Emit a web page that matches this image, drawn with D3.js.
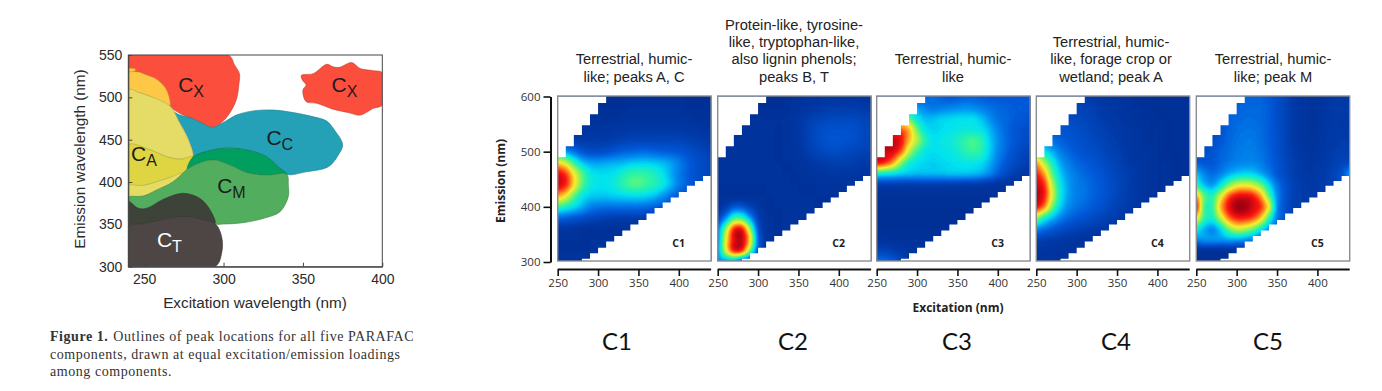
<!DOCTYPE html>
<html>
<head>
<meta charset="utf-8">
<script src="https://cdn.jsdelivr.net/npm/d3@7"></script>
<style>
body { margin: 0; background: #fff; }
svg { display: block; }
</style>
</head>
<body>
<div id="vis"></div>
<script>
// left figure: peak outlines, [excitation, emission] in nm
var cxMain = [[240,550],[303,550],[307,538],[310,528],[309.7,516],[308,497],[303,479],[298,469],[292.5,464.5],[287,469],[279,476],[272.6,481],[266.3,490],[263.7,509],[258,521],[251.6,526],[246.3,530],[240,529]];
var cxRight = [[349,526],[356.5,528],[365,539],[369,536],[373,535.4],[380.7,541],[386,534],[394.4,531.5],[400,529],[400,491],[394.4,487],[386,479],[378.6,482],[369,486],[358.7,493],[352,495],[350,508.6],[352,514.6],[349.8,520]];
var caWedge = [[240,534],[244.8,533],[241,529]];
var caOrange = [[240,529],[246,530],[252,526],[258,521],[264,509],[266,490],[254,501],[247,505.5],[240,509]];
var caLight = [[240,509],[247,505.5],[254,501],[266,490],[272.6,469],[277.8,449.6],[280.5,430],[272.6,427],[264,430],[253.7,438],[240,444]];
var caMid = [[240,444],[253.7,438],[264,430],[272.6,427],[280.5,430],[277.8,418],[274.7,411],[264,404],[249.5,396],[240,395.6]];
var caLow = [[240,395.6],[249.5,396],[264,404],[274.7,411],[268,400],[258,390.6],[249.5,383.5],[240,382]];
var ccMain = [[266.3,485],[272.6,479],[279,476],[287,469],[292.5,464.5],[298.8,469],[308,479],[318.8,484],[331.4,485],[344,482],[356.6,477],[365,472],[370,461],[375,444],[372.3,432],[366,418],[352,412],[339.8,409],[334.5,418],[327,430],[316.6,437],[302,440],[289,436],[280.5,429],[280.5,436],[277.8,451.6],[272.6,469]];
var cmOverlap = [[280.5,429],[289,436],[302,440],[316.6,437],[327,430],[334.5,418],[339.8,409],[327,408],[314.6,411],[304,420],[293.6,426],[283,421],[277.2,415]];
var cmMain = [[277.2,415],[283,421],[293.6,426],[304,420],[314.6,411],[327,408],[339.8,409],[340.8,396.5],[340.8,383],[335.6,365],[325,357],[312.5,352],[300,350.4],[294.6,351],[291.5,367],[285,380.7],[274.7,386.6],[262,379.5],[251.6,369],[246.3,369],[240.6,375],[240,382],[249.5,383.5],[258,390.6],[268,400],[274.7,411]];
var ctOverlap = [[240,377],[246.3,369],[251.6,369],[262,379.5],[274.7,386.6],[285,380.7],[291.5,367],[294.6,351],[283,357],[274.7,359],[262,355],[251.6,351],[240,347]];
var ctMain = [[240,347],[251.6,351],[262,355],[274.7,359],[283,357],[294.6,351],[298.8,335.4],[298.8,316],[294.6,300],[240,300]];

var regionNames = ["cxMain","cxRight","ccMain","caWedge","caOrange","caLight","caMid","caLow","cmOverlap","cmMain","ctOverlap","ctMain"];
var regionShapes = [cxMain,cxRight,ccMain,caWedge,caOrange,caLight,caMid,caLow,cmOverlap,cmMain,ctOverlap,ctMain];
var regionColors = ["#fb4e3c","#fb4e3c","#24a1b6","#fcc845","#fcc845","#e4dc66","#dfd542","#e5dd62","#009e5f","#52ae5e","#3e4339","#4d4644"];

var peakLabels = [["C","X",271.4,506],["C","X",368,506],["C","C",327,443.7],["C","A",241.7,425],["C","M",296,387],["C","T",258,323.6]];

var caption = ["Outlines of peak locations for all five PARAFAC","components, drawn at equal excitation/emission loadings","among components."];

// right figure
var panelNames = ["C1","C2","C3","C4","C5"];
var panelTitles = [
    ["Terrestrial, humic-","like; peaks A, C"],
    ["Protein-like, tyrosine-","like, tryptophan-like,","also lignin phenols;","peaks B, T"],
    ["Terrestrial, humic-","like"],
    ["Terrestrial, humic-","like, forage crop or","wetland; peak A"],
    ["Terrestrial, humic-","like; peak M"]
];

var exGrid = [250,260,270,280,290,300,310,320,330,340,350,360,370,380,390,400,410,420,430,440];
var emGrid = [600,580,560,540,520,500,480,460,440,420,400,380,360,340,320,300];

// loadings 0-100, one row per emGrid entry
var c1 = [
[5,5,5,5,5,5,5,5,5,5,5,5,5,5,5,5,5,5,5,5],
[5,5,5,5,5,5,5,5,5,6,6,6,6,6,6,6,5,5,5,5],
[6,6,6,6,6,6,6,6,7,7,7,7,7,7,7,7,7,6,6,6],
[8,8,8,8,8,8,8,9,9,10,10,10,10,10,10,10,9,9,8,8],
[16,14,12,11,11,11,11,12,13,14,14,14,14,14,14,14,13,12,11,10],
[34,32,26,20,17,17,18,20,22,23,24,24,23,22,21,20,18,16,14,12],
[72,65,50,38,33,32,33,34,35,37,38,38,37,35,32,27,22,18,16,14],
[93,87,70,54,43,40,40,41,45,49,50,49,46,41,34,27,22,18,16,14],
[95,89,72,54,44,41,41,43,48,52,53,50,47,42,35,27,22,18,16,14],
[78,70,55,43,38,37,37,38,39,40,40,39,36,31,25,20,17,15,13,12],
[50,46,40,34,28,26,25,25,25,25,25,24,22,19,16,14,12,11,10,10],
[24,22,20,18,16,14,13,12,12,12,12,11,10,9,9,8,8,8,8,8],
[9,9,8,7,6,6,6,6,6,6,6,6,6,6,6,6,6,6,6,6],
[6,6,6,6,6,6,6,6,6,6,6,6,6,6,6,6,6,6,6,6],
[6,6,6,6,6,6,6,6,6,6,6,6,6,6,6,6,6,6,6,6],
[6,6,6,6,6,6,6,6,6,6,6,6,6,6,6,6,6,6,6,6]
];
var c2 = [
[5,5,5,5,5,5,5,5,5,6,6,7,7,8,8,8,8,8,7,7],
[5,5,5,5,5,5,5,5,5,6,7,8,9,10,11,11,11,11,10,10],
[6,6,6,6,6,6,6,6,6,7,9,11,13,14,15,15,15,15,14,13],
[6,6,6,6,6,6,6,6,6,7,9,12,15,17,18,18,18,17,15,14],
[6,6,6,6,6,6,6,6,6,7,9,12,15,17,19,19,18,17,15,14],
[6,6,6,6,6,6,6,6,6,7,8,11,13,15,16,16,15,14,13,12],
[6,6,6,6,6,6,6,6,6,6,7,8,10,11,12,12,12,11,10,10],
[6,6,6,6,6,6,6,6,6,6,6,7,8,8,9,9,9,9,8,8],
[6,6,6,6,6,6,6,6,6,6,6,6,6,7,7,7,7,7,7,7],
[6,6,6,6,6,6,6,6,6,6,6,6,6,6,6,6,6,6,6,6],
[7,12,20,20,14,9,6,6,6,6,6,6,6,6,6,6,6,6,6,6],
[14,30,50,50,32,14,7,6,6,6,6,6,6,6,6,6,6,6,6,6],
[28,58,88,90,60,20,8,6,6,6,6,6,6,6,6,6,6,6,6,6],
[30,68,93,96,72,25,8,6,6,6,6,6,6,6,6,6,6,6,6,6],
[32,65,88,85,55,20,8,6,6,6,6,6,6,6,6,6,6,6,6,6],
[30,30,30,16,10,7,6,6,6,6,6,6,6,6,6,6,6,6,6,6]
];
var c3 = [
[15,15,15,15,16,18,22,24,22,20,21,22,22,21,20,20,20,20,20,20],
[30,30,30,30,32,32,28,26,27,28,29,30,29,27,25,23,22,21,21,20],
[60,60,60,60,55,42,36,36,38,39,40,40,40,36,30,25,23,21,20,18],
[85,85,85,85,76,56,42,39,40,41,42,43,43,41,35,28,23,20,18,16],
[100,100,97,92,76,62,48,41,42,43,46,50,52,48,38,30,24,20,17,15],
[98,96,94,84,64,50,42,40,41,42,44,48,50,47,38,29,23,18,15,13],
[92,88,78,60,46,41,39,38,39,40,41,42,42,40,34,26,20,16,13,11],
[45,43,41,38,36,35,35,35,35,36,36,36,35,33,28,21,16,12,10,9],
[12,12,12,12,12,12,12,12,12,12,12,11,11,10,9,8,7,7,7,7],
[6,6,6,6,6,6,6,6,6,6,6,6,6,6,6,6,6,6,6,6],
[5,5,5,5,5,5,5,5,5,5,5,5,5,5,5,5,5,5,5,5],
[5,5,5,5,5,5,5,5,5,5,5,5,5,5,5,5,5,5,5,5],
[5,5,5,5,5,5,5,5,5,5,5,5,5,5,5,5,5,5,5,5],
[7,7,6,6,6,6,6,6,6,6,6,6,6,6,6,6,6,6,6,6],
[14,14,12,10,8,7,6,6,6,6,6,6,6,6,6,6,6,6,6,6],
[24,24,20,15,10,8,6,6,6,6,6,6,6,6,6,6,6,6,6,6]
];
var c4 = [
[12,12,12,12,12,12,11,10,9,8,7,6,6,5,5,5,5,5,5,5],
[14,14,14,14,14,14,13,12,10,9,8,7,6,6,5,5,5,5,5,5],
[16,16,16,16,16,15,14,13,11,10,9,8,7,6,6,5,5,5,5,5],
[20,20,20,19,18,17,16,14,13,11,10,9,8,7,6,6,5,5,5,5],
[30,28,25,22,20,18,17,15,14,12,11,9,8,7,6,6,5,5,5,5],
[50,42,34,27,23,20,18,17,15,13,12,10,8,7,7,6,5,5,5,5],
[78,62,45,33,27,23,21,19,17,15,13,11,9,8,7,6,6,5,5,5],
[90,78,54,38,30,26,23,21,19,16,14,12,10,8,7,6,6,5,5,5],
[96,88,63,42,32,27,25,22,20,17,15,12,10,8,7,6,6,5,5,5],
[98,90,66,43,32,27,25,22,20,17,14,12,10,8,7,6,6,5,5,5],
[92,80,56,38,29,25,23,20,18,15,13,11,9,8,7,6,6,5,5,5],
[60,46,36,28,23,20,18,16,14,12,11,9,8,7,6,6,5,5,5,5],
[30,25,21,17,15,13,12,11,10,9,8,7,6,6,5,5,5,5,5,5],
[14,12,11,10,9,8,7,7,6,6,6,5,5,5,5,5,5,5,5,5],
[8,8,8,7,7,6,6,6,6,5,5,5,5,5,5,5,5,5,5,5],
[7,7,7,6,6,6,5,5,5,5,5,5,5,5,5,5,5,5,5,5]
];
var c5 = [
[20,20,20,20,20,20,22,22,22,20,17,14,10,8,7,7,8,9,9,9],
[18,18,19,20,21,22,23,23,23,21,17,14,10,8,7,7,8,10,10,10],
[16,16,18,20,22,23,24,24,23,21,17,14,10,8,7,7,9,10,10,10],
[14,14,16,19,22,24,25,25,24,21,17,14,10,8,7,7,9,10,10,10],
[14,15,17,20,23,25,26,26,24,21,18,14,10,8,7,8,9,10,11,11],
[16,17,19,22,24,26,27,27,25,22,18,14,11,9,8,8,10,11,12,12],
[22,20,20,23,26,28,29,29,27,23,19,15,12,10,8,9,10,12,14,16],
[36,28,24,28,34,38,40,39,34,27,20,16,12,10,9,10,11,14,18,30],
[48,36,32,42,56,66,68,65,56,40,26,18,13,11,10,10,11,13,16,20],
[78,54,48,66,84,92,93,90,78,54,30,19,13,11,10,10,10,11,12,14],
[90,52,50,76,92,100,100,95,88,68,30,18,13,11,10,9,9,9,9,9],
[72,50,46,64,82,90,90,86,74,50,27,18,12,10,9,8,8,8,8,8],
[45,35,30,40,56,65,63,56,44,30,20,14,10,8,8,7,7,7,7,7],
[28,30,30,30,32,32,30,26,20,14,10,8,7,6,6,6,6,6,6,6],
[6,6,6,6,6,6,6,6,6,6,6,6,6,6,6,6,6,6,6,6],
[6,6,6,6,6,6,6,6,6,6,6,6,6,6,6,6,6,6,6,6]
];
var panelValues = [c1,c2,c3,c4,c5];

// instrument coverage: staircase edges of the white corners
var upperEx = [250,260,270,280,290,300,310];
var upperEm = [490,510,530,548,568,588,600];
var lowerEx = [250,260,270,280,290,300,310,320,330,340,350,360,370,380,390,400,410,420,430,440];
var lowerEm = [300,300,298,306,316,326,337,347,357,368,376,388,398,408,417,427,438,447,456,465];

var loadStops = [0,10,20,30,40,50,60,70,80,90,100];
var loadColors = ["#00288a","#003aa8","#0058d8","#0092f2","#00e2f0","#30f5a0","#a0f050","#f8ee30","#ff9020","#ff1510","#a00012"];

var xTicks = [250,300,350,400];
var yTicks = [300,400,500,600];

var width = 1382, height = 391;
var svg = d3.select("#vis").append("svg").attr("width", width).attr("height", height);
svg.append("rect").attr("width", width).attr("height", height).attr("fill", "#fff");

// ---- left figure ----
var lx = d3.scaleLinear().domain([240, 400]).range([128.3, 382.3]);
var ly = d3.scaleLinear().domain([300, 550]).range([266.7, 55]);
var sansFont = "'Liberation Sans', Arial, sans-serif";

svg.append("clipPath").attr("id", "leftClip").append("rect")
    .attr("x", lx(240)).attr("y", ly(550)).attr("width", lx(400) - lx(240)).attr("height", ly(300) - ly(550));

var outline = d3.line().x(d => lx(d[0])).y(d => ly(d[1])).curve(d3.curveCatmullRomClosed.alpha(0.5));

svg.append("g").attr("clip-path", "url(#leftClip)")
    .selectAll("path").data(regionShapes).enter().append("path")
    .attr("class", (d, i) => regionNames[i])
    .attr("d", outline)
    .attr("fill", (d, i) => regionColors[i])
    .attr("stroke", (d, i) => d3.color(regionColors[i]).darker(0.7))
    .attr("stroke-width", 0.6);

var lxAxis = svg.append("g").attr("transform", "translate(0," + ly(300) + ")")
    .call(d3.axisBottom(lx).tickValues([250,300,350,400]).tickSizeInner(-4).tickSizeOuter(0).tickPadding(7));
var lyAxis = svg.append("g").attr("transform", "translate(" + lx(240) + ",0)")
    .call(d3.axisLeft(ly).tickValues([300,350,400,450,500,550]).tickSizeInner(-4).tickSizeOuter(0).tickPadding(6));
[lxAxis, lyAxis].forEach(function(a) {
    a.selectAll("text").attr("font-family", sansFont).attr("font-size", 14).attr("fill", "#2b2b2b");
    a.selectAll("line").attr("stroke", "#444");
    a.select(".domain").attr("stroke", "#444");
});
svg.append("rect")
    .attr("x", lx(240)).attr("y", ly(550)).attr("width", lx(400) - lx(240)).attr("height", ly(300) - ly(550))
    .attr("fill", "none").attr("stroke", "#444").attr("stroke-width", 1);

svg.append("text").attr("x", 255).attr("y", 308).attr("text-anchor", "middle")
    .attr("font-family", sansFont).attr("font-size", 15.3).attr("fill", "#2b2b2b").text("Excitation wavelength (nm)");
svg.append("text").attr("transform", "translate(85,159) rotate(-90)").attr("text-anchor", "middle")
    .attr("font-family", sansFont).attr("font-size", 15.3).attr("fill", "#2b2b2b").text("Emission wavelength (nm)");

var peakText = svg.append("g").selectAll("text").data(peakLabels).enter().append("text")
    .attr("x", d => lx(d[2])).attr("y", d => ly(d[3]))
    .attr("font-family", sansFont).attr("font-size", 21)
    .attr("fill", d => d[1] == "T" ? "#fff" : "#1c1c1c");
peakText.append("tspan").text(d => d[0]);
peakText.append("tspan").attr("dy", 5).attr("font-size", 16).text(d => d[1]);

var serifFont = "'Liberation Serif', serif";
var capTop = svg.append("text").attr("x", 50).attr("y", 341).attr("font-family", serifFont)
    .attr("font-size", 14).attr("letter-spacing", 0.55).attr("fill", "#333");
capTop.append("tspan").attr("font-weight", "bold").text("Figure 1.");
capTop.append("tspan").attr("dx", 5).text(caption[0]);
svg.append("text").attr("x", 50).attr("y", 358.5).attr("font-family", serifFont)
    .attr("font-size", 14).attr("letter-spacing", 0.55).attr("fill", "#333").text(caption[1]);
svg.append("text").attr("x", 50).attr("y", 376).attr("font-family", serifFont)
    .attr("font-size", 14).attr("letter-spacing", 0.55).attr("fill", "#333").text(caption[2]);

// ---- right figure ----
var panelLeft = [557.7, 717.7, 876.7, 1036.3, 1196.3];
var panelWidth = 153.4;
var labelFont = "'Open Sans', sans-serif";
var y = d3.scaleLinear().domain([300, 600]).range([262, 96.5]);
var color = d3.scaleLinear().domain(loadStops).range(loadColors).clamp(true);

// cubic through the read values, used only to render the grid smoothly (like bicubic imshow)
function cubic(p0, p1, p2, p3, t) {
    return p1 + 0.5 * t * (p2 - p0 + t * (2 * p0 - 5 * p1 + 4 * p2 - p3 + t * (3 * (p1 - p2) + p3 - p0)));
}
function sampleRow(row, u) {
    var i = Math.min(Math.floor(u), row.length - 2), t = u - i;
    return cubic(row[Math.max(i - 1, 0)], row[i], row[i + 1], row[Math.min(i + 2, row.length - 1)], t);
}
var exStep = 2, emStep = 2;
var nx = (d3.max(exGrid) - d3.min(exGrid)) / exStep + 1;
var ny = (d3.max(emGrid) - d3.min(emGrid)) / emStep + 1;

function upsample(m) {
    var out = new Array(nx * ny);
    for (var j = 0; j < ny; j++) {
        var v = j * emStep / (emGrid[0] - emGrid[1]);
        var col = exGrid.map((_, c) => sampleRow(m.map(r => r[c]), v));
        for (var i = 0; i < nx; i++) {
            out[j * nx + i] = sampleRow(col, i * exStep / (exGrid[1] - exGrid[0]));
        }
    }
    return out;
}

var thresholds = d3.range(1, 102, 1);

panelValues.forEach(function(m, p) {
    var x = d3.scaleLinear().domain([250, 440]).range([panelLeft[p], panelLeft[p] + panelWidth]);
    var g = svg.append("g").attr("class", "panel " + panelNames[p]);
    var clipId = "clip" + p;
    g.append("clipPath").attr("id", clipId).append("rect")
        .attr("x", x(250)).attr("y", 96).attr("width", panelWidth).attr("height", 165);

    var body = g.append("g").attr("clip-path", "url(#" + clipId + ")");
    body.append("rect").attr("x", x(250)).attr("y", 96).attr("width", panelWidth).attr("height", 165).attr("fill", color(0));

    var proj = d3.geoTransform({
        point: function(cx, cy) {
            this.stream.point(x(250 + (cx - 0.5) * exStep), y(600 - (cy - 0.5) * emStep));
        }
    });
    var bands = d3.contours().size([nx, ny]).thresholds(thresholds)(upsample(m));
    body.selectAll("path.band").data(bands).enter().append("path")
        .attr("class", "band")
        .attr("d", d3.geoPath(proj))
        .attr("fill", d => color(d.value));

    // white corners where there is no data
    var upperArea = d3.area().x((d, i) => x(d)).y0(y(600)).y1((d, i) => y(upperEm[i])).curve(d3.curveStepAfter);
    var lowerArea = d3.area().x((d, i) => x(d)).y0(y(300)).y1((d, i) => y(lowerEm[i])).curve(d3.curveStepAfter);
    body.append("path").attr("d", upperArea(upperEx)).attr("fill", "#fff");
    body.append("path").attr("d", lowerArea(lowerEx)).attr("fill", "#fff");

    g.append("rect").attr("x", x(250)).attr("y", 96).attr("width", panelWidth).attr("height", 165)
        .attr("fill", "none").attr("stroke", "#8c8c8c").attr("stroke-width", 1.4);

    g.append("text").attr("x", x(250) + 121).attr("y", 247).attr("text-anchor", "middle")
        .attr("font-family", labelFont).attr("font-weight", "bold").attr("font-size", 10.5).attr("fill", "#222")
        .text(panelNames[p]);

    var ax = g.append("g").attr("transform", "translate(0,269.5)")
        .call(d3.axisBottom(x).tickValues(xTicks).tickSizeInner(6.5).tickSizeOuter(0).tickPadding(3));
    ax.select(".domain").attr("stroke", "#111").attr("stroke-width", 2);
    ax.selectAll("line").attr("stroke", "#111").attr("stroke-width", 1.6);
    ax.selectAll("text").attr("font-family", labelFont).attr("font-size", 11.5).attr("fill", "#333");
    ax.select(".domain").attr("d", "M" + x(250) + ",0H" + (x(250) + panelWidth));

    var title = g.append("text").attr("text-anchor", "middle")
        .attr("font-family", sansFont).attr("font-size", 14.7).attr("fill", "#222");
    var titleCentre = [634, 794, 953, 1111, 1273][p];
    panelTitles[p].forEach(function(line, i, all) {
        title.append("tspan").attr("x", titleCentre)
            .attr("y", 81.5 - (all.length - 1 - i) * 17.3).text(line);
    });

    g.append("text").attr("x", [617, 793, 957, 1116, 1268][p]).attr("y", 350).attr("text-anchor", "middle")
        .attr("font-family", "Lato, sans-serif").attr("font-size", 24).attr("fill", "#111").text(panelNames[p]);
});

var ay = svg.append("g").attr("transform", "translate(550.5,0)")
    .call(d3.axisLeft(y).tickValues(yTicks).tickSizeInner(7).tickSizeOuter(0).tickPadding(3));
ay.select(".domain").attr("stroke", "#111").attr("stroke-width", 2);
ay.selectAll("line").attr("stroke", "#111").attr("stroke-width", 1.6);
ay.selectAll("text").attr("font-family", labelFont).attr("font-size", 11.5).attr("fill", "#333");

svg.append("text").attr("x", 958).attr("y", 312).attr("text-anchor", "middle")
    .attr("font-family", labelFont).attr("font-weight", "bold").attr("font-size", 12).attr("fill", "#222")
    .text("Excitation (nm)");
svg.append("text").attr("transform", "translate(505,181) rotate(-90)").attr("text-anchor", "middle")
    .attr("font-family", labelFont).attr("font-weight", "bold").attr("font-size", 12).attr("fill", "#222")
    .text("Emission (nm)");
</script>
</body>
</html>
